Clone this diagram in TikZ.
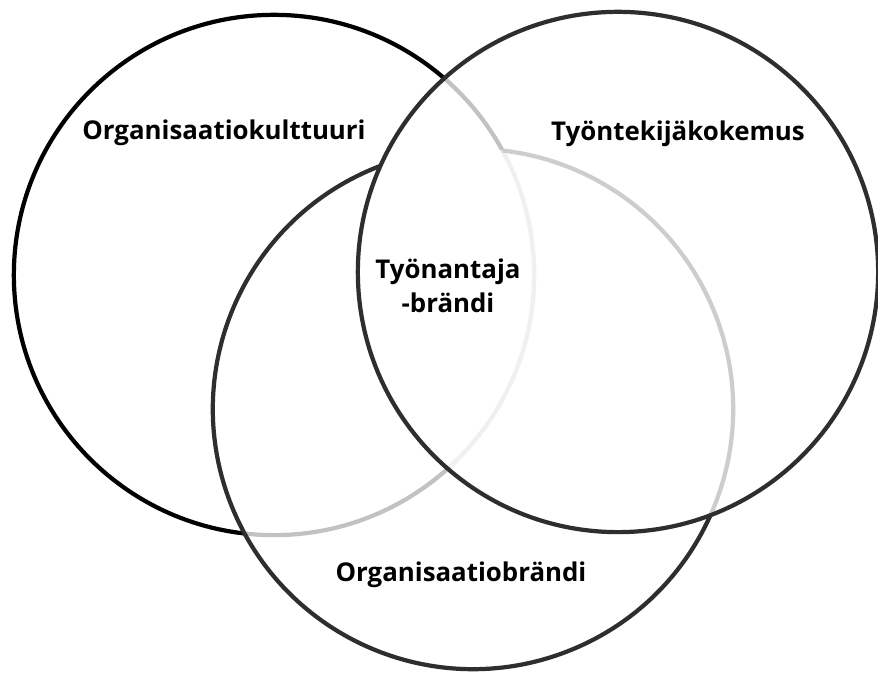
\documentclass[tikz,border=0pt]{standalone}
\usepackage{fontspec}
\setmainfont{Open Sans}

\begin{document}
\begin{tikzpicture}[x=0.01cm, y=-0.01cm, line width=1.2pt,
    font=\fontsize{7.35}{9.6}\selectfont\bfseries,
    veil/.style={fill=white, fill opacity=0.76},
    rim/.style={draw=black!82}]
  \useasboundingbox (0,0) rectangle (878,674);
  \coordinate (kulttuuri) at (274,275);
  \coordinate (brandi) at (473,409);
  \coordinate (kokemus) at (618,272);
  \def\rr{2.6cm}

  % left ring, then the lower one over it (its arc inside both others left out)
  \draw[black] (kulttuuri) circle[radius=\rr];
  \fill[veil] (brandi) circle[radius=\rr];
  \draw[rim] (brandi) ++(110.8:\rr)
    arc[start angle=110.8, end angle=443.5, radius=\rr];
  % right ring on top
  \fill[veil] (kokemus) circle[radius=\rr];
  \draw[rim] (kokemus) circle[radius=\rr];

  \node (kulttuurilabel) at (224,133) {Organisaatiokulttuuri};
  \node (kokemuslabel) at (678,134) {Työntekijäkokemus};
  \node[align=center] (tyonantaja) at (448,286) {Työnantaja\\-brändi};
  \node (brandilabel) at (461,575) {Organisaatiobrändi};
\end{tikzpicture}
\end{document}
